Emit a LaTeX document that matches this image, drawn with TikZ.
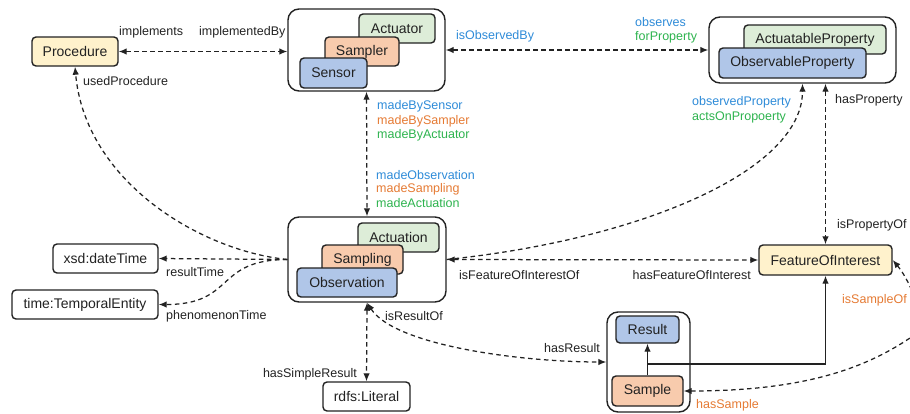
\documentclass[tikz,border=0pt]{standalone}
\usepackage{fontspec}
\setmainfont{Liberation Sans}
\usetikzlibrary{arrows.meta}

\definecolor{fillY}{HTML}{FFF2CC}
\definecolor{fillG}{HTML}{DDEDD8}
\definecolor{fillO}{HTML}{F8CBAD}
\definecolor{fillB}{HTML}{B0C6E8}
\definecolor{edge}{HTML}{222222}
\definecolor{lblB}{HTML}{2E8BD8}
\definecolor{lblO}{HTML}{E57A33}
\definecolor{lblG}{HTML}{2DB34E}

\tikzset{
  box/.style={draw=edge, line width=1.4pt, rounded corners=4pt, inner sep=0pt,
    text=edge, font=\fontsize{14}{16}\selectfont},
  grp/.style={draw=edge, line width=1.4pt, rounded corners=11pt, inner sep=0pt, fill=white},
  lbl/.style={inner sep=0pt, text=edge, font=\fontsize{12.5}{14}\selectfont},
  dline/.style={draw=edge, line width=1.25pt, dash pattern=on 4.5pt off 3.5pt},
  sline/.style={draw=edge, line width=1.25pt},
  oneway/.style={-{Latex[length=8pt,width=6.5pt]}},
  twoway/.style={{Latex[length=8pt,width=6.5pt]}-{Latex[length=8pt,width=6.5pt]}},
}

\begin{document}
\begin{tikzpicture}[x=1pt,y=-1pt]
\useasboundingbox (0,0) rectangle (910,413);

% ---- single classes
\node[box, fill=fillY, minimum width=86pt, minimum height=29pt] (proc) at (75,51.5) {Procedure};
\node[box, fill=fillY, minimum width=133pt, minimum height=30pt] (foi) at (825.5,260) {FeatureOfInterest};
\node[box, fill=white, minimum width=105pt, minimum height=29pt] (xsd) at (105.5,258.5) {xsd:dateTime};
\node[box, fill=white, minimum width=146pt, minimum height=29pt] (tent) at (85,304.5) {time:TemporalEntity};
\node[box, fill=white, minimum width=87pt, minimum height=29pt] (literal) at (366.5,396.5) {rdfs:Literal};

% ---- system group
\node[grp, minimum width=157pt, minimum height=82pt] (sensgrp) at (366.5,50) {};
\node[box, fill=fillG, minimum width=76pt, minimum height=29pt] (actuator) at (397,28.5) {Actuator};
\node[box, fill=fillO, minimum width=74pt, minimum height=29pt] (sampler) at (362,51.5) {Sampler};
\node[box, fill=fillB, minimum width=67pt, minimum height=30pt] (sensor) at (333.5,73) {Sensor};

% ---- property group
\node[grp, minimum width=187pt, minimum height=66pt] (propgrp) at (802.5,50) {};
\node[box, fill=fillG, minimum width=142pt, minimum height=29pt] (actprop) at (815,39.5) {ActuatableProperty};
\node[box, fill=fillB, minimum width=147pt, minimum height=30pt] (obsprop) at (792.5,63) {ObservableProperty};

% ---- act group
\node[grp, minimum width=158pt, minimum height=85pt] (obsgrp) at (367,259.5) {};
\node[box, fill=fillG, minimum width=81pt, minimum height=29pt] (actuation) at (398.5,237.5) {Actuation};
\node[box, fill=fillO, minimum width=81pt, minimum height=29pt] (sampling) at (362.5,259.5) {Sampling};
\node[box, fill=fillB, minimum width=100pt, minimum height=29pt] (observation) at (347,282.5) {Observation};

% ---- result group
\node[grp, minimum width=83pt, minimum height=100pt] (resgrp) at (648.5,362) {};
\node[box, fill=fillB, minimum width=63pt, minimum height=27pt] (result) at (647.5,329.5) {Result};
\node[box, fill=fillO, minimum width=71pt, minimum height=30pt] (sample) at (647.5,391) {Sample};

% ---- connectors
\draw[dline, twoway] (proc.east) -- (proc.east -| sensgrp.west);
\draw[dline, twoway] (sensgrp.east) -- (propgrp.west);
\draw[dline, twoway] (sensgrp.south) -- (obsgrp.north);
\draw[dline, twoway] (obsgrp.south) -- (literal.north);
\draw[dline, twoway] (foi.north |- propgrp.south) -- (foi.north);
\draw[dline, twoway] (obsgrp.east) -- (foi.west);
\draw[dline, oneway] (obsgrp.east) .. controls +(194,-20) and +(0,87) .. (propgrp.south);
\draw[dline, oneway] (obsgrp.west) .. controls +(-88,-9) and +(10,114) .. (proc.south);
\draw[dline, oneway] (obsgrp.west) -- (xsd.east);
\draw[dline, oneway] (obsgrp.west) .. controls +(-73,0) and +(77,0) .. (tent.east);
\draw[dline, twoway] (obsgrp.south) .. controls +(28,43) and +(-85,0) .. (resgrp.west);
\coordinate (branch) at (647.5,364);
\coordinate (sbend) at (910,338);
\draw[sline, oneway] (sample.north) -- (result.south);
\draw[sline, oneway] (branch) -| (foi.south);
\draw[dline, twoway] (sample.east) .. controls +(125,0) and +(-42,28) .. (sbend)
  .. controls +(18,-12) and +(20,24) .. (foi.east);

% ---- labels
\node[lbl, anchor=west] (tImpl) at (119,32) {implements};
\node[lbl, anchor=west] (tImplBy) at (199,32) {implementedBy};
\node[lbl, anchor=west] (tUsed) at (83,81) {usedProcedure};
\node[lbl, anchor=west, text=lblB] (tIsObs) at (456,36) {isObservedBy};
\node[lbl, anchor=west, text=lblB] (tObserves) at (635,22) {observes};
\node[lbl, anchor=west, text=lblG] (tForProp) at (635,37) {forProperty};
\node[lbl, anchor=west, text=lblB] (tMbSens) at (377,106) {madeBySensor};
\node[lbl, anchor=west, text=lblO] (tMbSamp) at (377,121) {madeBySampler};
\node[lbl, anchor=west, text=lblG] (tMbAct) at (377,135) {madeByActuator};
\node[lbl, anchor=west, text=lblB] (tMObs) at (376,175) {madeObservation};
\node[lbl, anchor=west, text=lblO] (tMSamp) at (376,189) {madeSampling};
\node[lbl, anchor=west, text=lblG] (tMAct) at (376,203) {madeActuation};
\node[lbl, anchor=west, text=lblB] (tObsProp) at (692,102) {observedProperty};
\node[lbl, anchor=west, text=lblG] (tActsOn) at (692,117) {actsOnPropoerty};
\node[lbl, anchor=west] (tHasProp) at (835,100) {hasProperty};
\node[lbl, anchor=west] (tIsPropOf) at (837,225) {isPropertyOf};
\node[lbl, anchor=west] (tIsFoiOf) at (459,275) {isFeatureOfInterestOf};
\node[lbl, anchor=east] (tHasFoi) at (751,275) {hasFeatureOfInterest};
\node[lbl, anchor=west] (tResTime) at (166,272) {resultTime};
\node[lbl, anchor=west] (tPhenTime) at (166,316) {phenomenonTime};
\node[lbl, anchor=west] (tIsResOf) at (385,316) {isResultOf};
\node[lbl, anchor=east] (tHasRes) at (600,348) {hasResult};
\node[lbl, anchor=east] (tSimple) at (357,374) {hasSimpleResult};
\node[lbl, anchor=east, text=lblO] (tIsSampOf) at (907,300) {isSampleOf};
\node[lbl, anchor=west, text=lblO] (tHasSamp) at (696,405) {hasSample};
\end{tikzpicture}
\end{document}
